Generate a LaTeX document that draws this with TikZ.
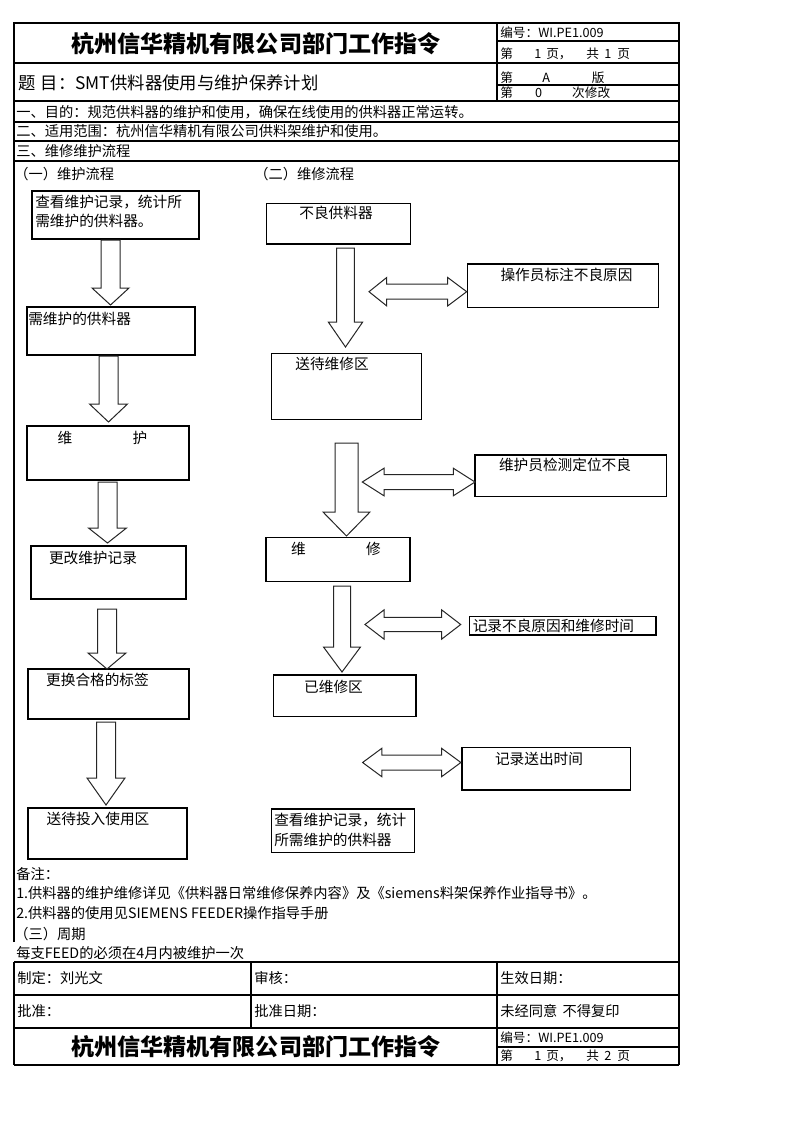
\documentclass[tikz,border=0pt]{standalone}
\usepackage{fontspec}
\setmainfont{Noto Sans CJK SC}
\usepackage{tikz}

\begin{document}
\begin{tikzpicture}[x=0.75pt,y=0.75pt,yscale=-1,xscale=1,
  txt/.style={inner sep=0pt,anchor=west,font=\fontsize{10.7}{13}\selectfont},
  flowtxt/.style={inner sep=0pt,font=\fontsize{11}{14.5}\selectfont},
  smalltxt/.style={inner sep=0pt,anchor=west,font=\fontsize{9.5}{11}\selectfont},
  titletxt/.style={inner sep=0pt,font=\bfseries\fontsize{17.3}{20}\selectfont},
  frame/.style={line width=1.5pt},
  rule/.style={line width=0.9pt},
  flowbox/.style={line width=0.8pt},
  blockarrow/.style={line width=0.75pt,draw=black!85,fill=white}]
%set diagram to the page: 793 x 1122
\useasboundingbox (0,0) rectangle (793,1122);

%Straight Lines (outer frame)
\draw [frame] (14,942) -- (14,23) -- (679,23) -- (679,1065) ;
\draw [frame] (14,962) -- (14,1065) ;

%Straight Lines (header)
\draw [rule] (14,63) -- (679,63) ;
\draw [rule] (497,23) -- (497,101) ;
\draw [rule] (497,41) -- (679,41) ;
\draw [rule] (497,85) -- (679,85) ;
\draw [rule] (14,101) -- (679,101) ;
\draw [rule] (14,122) -- (679,122) ;
\draw [rule] (14,141) -- (679,141) ;
\draw [rule] (14,161) -- (679,161) ;

%Straight Lines (sign-off table)
\draw [rule] (14,962) -- (679,962) ;
\draw [rule] (14,995) -- (679,995) ;
\draw [frame] (14,1028) -- (679,1028) ;
\draw [rule] (14,1065) -- (679,1065) ;
\draw [rule] (251,962) -- (251,1028) ;
\draw [rule] (497,962) -- (497,1065) ;
\draw [rule] (497,1047) -- (679,1047) ;

%Shape: Rectangle (left column)
\draw [flowbox] (32,191) rectangle (199,239) ;
\draw [flowbox] (27,307) rectangle (195,355) ;
\draw [flowbox] (27,426) rectangle (189,480) ;
\draw [flowbox] (31,546) rectangle (186,599) ;
\draw [flowbox] (28,669) rectangle (189,719) ;
\draw [flowbox] (28,808) rectangle (187,859) ;

%Shape: Rectangle (right column)
\draw [flowbox] (266.7,203.3) rectangle (410.7,244) ;
\draw [flowbox] (467.3,264) rectangle (658.3,307.3) ;
\draw [flowbox] (271.7,353.3) rectangle (421.7,419.3) ;
\draw [flowbox] (475,455) rectangle (666.7,496.7) ;
\draw [flowbox] (266,537.7) rectangle (410,581.7) ;
\draw [flowbox] (469.3,616.7) rectangle (656,635) ;
\draw [flowbox] (273.3,675) rectangle (416,716.7) ;
\draw [flowbox] (462,747.3) rectangle (630.5,790) ;
\draw [flowbox] (271.5,809) rectangle (414.3,852.7) ;

%Down Arrow (left column)
\draw [blockarrow] (101,240) -- (120,240) -- (120,288) -- (129,288) -- (110.5,305) -- (92,288) -- (101,288) -- cycle ;
\draw [blockarrow] (99,356) -- (118,356) -- (118,404) -- (127.5,404) -- (108.5,422) -- (89.5,404) -- (99,404) -- cycle ;
\draw [blockarrow] (98,482) -- (117,482) -- (117,528) -- (126.5,528) -- (107.5,543) -- (88.5,528) -- (98,528) -- cycle ;
\draw [blockarrow] (97.5,609) -- (116.5,609) -- (116.5,653) -- (126,653) -- (107,669) -- (88,653) -- (97.5,653) -- cycle ;
\draw [blockarrow] (96.5,722) -- (115.5,722) -- (115.5,778) -- (125,778) -- (106,805) -- (87,778) -- (96.5,778) -- cycle ;

%Down Arrow (right column)
\draw [blockarrow] (336.7,248) -- (354.3,248) -- (354.3,322) -- (362.7,322) -- (345.5,347) -- (328.3,322) -- (336.7,322) -- cycle ;
\draw [blockarrow] (335,443) -- (358,443) -- (358,512) -- (370,512) -- (346.5,536) -- (323,512) -- (335,512) -- cycle ;
\draw [blockarrow] (333.5,586) -- (350.5,586) -- (350.5,647) -- (360.5,647) -- (342,672) -- (323.5,647) -- (333.5,647) -- cycle ;

%Left-Right Arrow
\draw [blockarrow] (369,291.7) -- (386.7,277.5) -- (386.7,284.2) -- (447.7,284.2) -- (447.7,277.5) -- (466.7,291.7) -- (447.7,305.9) -- (447.7,299.2) -- (386.7,299.2) -- (386.7,305.9) -- cycle ;
\draw [blockarrow] (362.3,482) -- (384,468.2) -- (384,474.5) -- (453.3,474.5) -- (453.3,468.2) -- (475,482) -- (453.3,495.8) -- (453.3,489.5) -- (384,489.5) -- (384,495.8) -- cycle ;
\draw [blockarrow] (365,624.5) -- (384,609.9) -- (384,617.3) -- (441.7,617.3) -- (441.7,609.9) -- (460.7,624.5) -- (441.7,639.1) -- (441.7,631.7) -- (384,631.7) -- (384,639.1) -- cycle ;
\draw [blockarrow] (362.6,762.5) -- (381.8,748.3) -- (381.8,755) -- (441.6,755) -- (441.6,748.3) -- (460.9,762.5) -- (441.6,776.7) -- (441.6,770) -- (381.8,770) -- (381.8,776.7) -- cycle ;

% Text Node
\draw (256,44) node [titletxt] (title) {杭州信华精机有限公司部门工作指令};
% Text Node
\draw (500,32.5) node [smalltxt] (codeNo) {编号：WI.PE1.009};
% Text Node
\draw (500,54) node [smalltxt] (pageNo) {第\hspace{16pt}1\hspace{3.75pt}页，\hspace{11pt}共\hspace{4pt}1\hspace{4.5pt}页};
% Text Node
\draw (18,83) node [txt,font=\fontsize{13}{15}\selectfont] (subject) {题\hspace{4pt}目：SMT供料器使用与维护保养计划};
% Text Node
\draw (500,77.5) node [smalltxt] (edition) {第\hspace{22pt}A\hspace{31.5pt}版};
% Text Node
\draw (500,93) node [smalltxt] (revision) {第\hspace{16.7pt}0\hspace{22.5pt}次修改};
% Text Node
\draw (16,112) node [txt] (aim) {一、目的：规范供料器的维护和使用，确保在线使用的供料器正常运转。};
% Text Node
\draw (16,131.5) node [txt] (scope) {二、适用范围：杭州信华精机有限公司供料架维护和使用。};
% Text Node
\draw (16,151) node [txt] (flow) {三、维修维护流程};
% Text Node
\draw (14,174) node [txt] (secOne) {（一）维护流程};
% Text Node
\draw (254,174) node [txt] (secTwo) {（二）维修流程};

% Text Node
\draw (35,211.5) node [flowtxt,anchor=west,align=left] (tCheck) {查看维护记录，统计所\\需维护的供料器。};
% Text Node
\draw (28,319) node [flowtxt,anchor=west] (tNeed) {需维护的供料器};
% Text Node
\draw (65,437.5) node [flowtxt] (tKeepA) {维};
% Text Node
\draw (140,437.5) node [flowtxt] (tKeepB) {护};
% Text Node
\draw (93,557.5) node [flowtxt] (tRecord) {更改维护记录};
% Text Node
\draw (97.5,680) node [flowtxt] (tLabel) {更换合格的标签};
% Text Node
\draw (98,818.5) node [flowtxt] (tReturn) {送待投入使用区};

% Text Node
\draw (336,213) node [flowtxt] (tBad) {不良供料器};
% Text Node
\draw (566.5,274.5) node [flowtxt] (tMark) {操作员标注不良原因};
% Text Node
\draw (332,363.5) node [flowtxt] (tWait) {送待维修区};
% Text Node
\draw (565,465) node [flowtxt] (tDetect) {维护员检测定位不良};
% Text Node
\draw (298.5,548.5) node [flowtxt] (tFixA) {维};
% Text Node
\draw (373.5,548.5) node [flowtxt] (tFixB) {修};
% Text Node
\draw (472.5,625.5) node [flowtxt,anchor=west] (tCause) {记录不良原因和维修时间};
% Text Node
\draw (333.5,686.5) node [flowtxt] (tDone) {已维修区};
% Text Node
\draw (539,758.5) node [flowtxt] (tSend) {记录送出时间};
% Text Node
\draw (274,830) node [flowtxt,anchor=west,align=left] (tCount) {查看维护记录，统计\\所需维护的供料器};

% Text Node
\draw (16,874) node [txt] (remark) {备注：};
% Text Node
\draw (16,893) node [txt] (noteOne) {1.供料器的维护维修详见《供料器日常维修保养内容》及《siemens料架保养作业指导书》。};
% Text Node
\draw (16,913) node [txt] (noteTwo) {2.供料器的使用见SIEMENS FEEDER操作指导手册};
% Text Node
\draw (14,934) node [txt] (secThree) {（三）周期};
% Text Node
\draw (16,953) node [txt] (period) {每支FEED的必须在4月内被维护一次};

% Text Node
\draw (17,978.5) node [txt] (madeBy) {制定：刘光文};
% Text Node
\draw (254,978.5) node [txt] (checkBy) {审核：};
% Text Node
\draw (500,978.5) node [txt] (validFrom) {生效日期：};
% Text Node
\draw (17,1011.5) node [txt] (approveBy) {批准：};
% Text Node
\draw (254,1011.5) node [txt] (approveDate) {批准日期：};
% Text Node
\draw (500,1011.5) node [txt] (noCopy) {未经同意\hspace{4pt}不得复印};
% Text Node
\draw (256,1047) node [titletxt] (titleFoot) {杭州信华精机有限公司部门工作指令};
% Text Node
\draw (500,1037.5) node [smalltxt] (codeNoFoot) {编号：WI.PE1.009};
% Text Node
\draw (500,1056) node [smalltxt] (pageNoFoot) {第\hspace{16pt}1\hspace{3.75pt}页，\hspace{11pt}共\hspace{4pt}2\hspace{4.5pt}页};

\end{tikzpicture}
\end{document}
